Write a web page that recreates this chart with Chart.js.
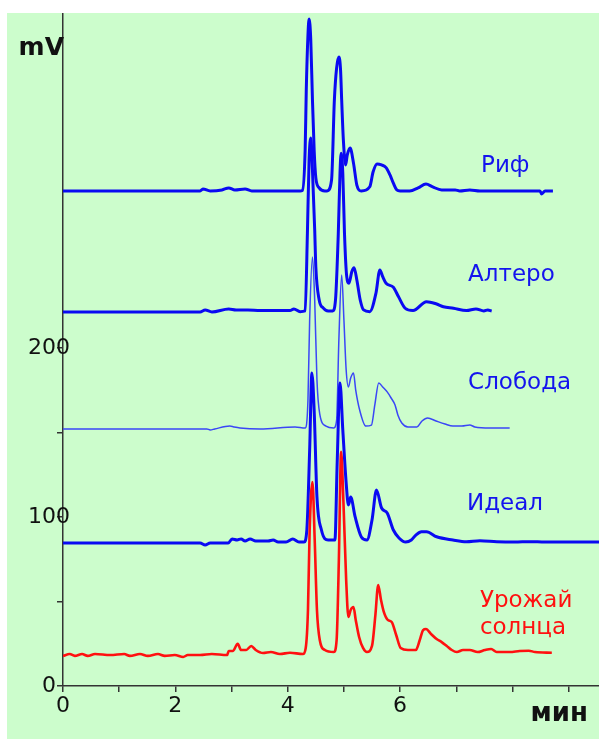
<!DOCTYPE html>
<html>
<head>
<meta charset="utf-8">
<script src="https://cdn.jsdelivr.net/npm/chart.js@4.4.1/dist/chart.umd.min.js"></script>
<style>
  body { margin: 0; background: #fff; }
  canvas { display: block; }
</style>
</head>
<body>
<canvas id="myChart" width="599" height="743"></canvas>
<script>
// chromatograms: [time, min ; signal, mV]
var names = ['Риф', 'Алтеро', 'Слобода', 'Идеал', 'Урожай солнца'];

var rif = [[0,292.9],[1.55,292.9],[2.44,292.9],[2.49,294.1],[2.62,292.9],[2.83,293.5],[2.95,294.7],[3.06,293.5],[3.24,294.1],[3.36,292.9],
  [4.22,292.9],[4.26,293.2],[4.31,317.2],[4.33,352.7],[4.36,385.2],[4.38,394.7],[4.41,382.2],[4.44,346.7],[4.47,317.2],[4.50,300.6],[4.56,294.7],[4.66,292.9],
  [4.70,292.9],[4.78,299.4],[4.83,346.7],[4.87,365.7],[4.91,372.2],[4.94,364.5],[4.96,346.7],[4.99,323.1],[5.03,308.3],[5.06,314.2],[5.11,318.3],[5.17,309.5],[5.23,296.4],[5.31,292.9],
  [5.46,295.4],[5.52,304.3],[5.59,308.9],[5.67,308.3],[5.75,306.7],[5.82,302.4],[5.88,297.5],[5.94,293.5],[6.00,292.9],[6.17,292.9],[6.32,294.7],[6.46,297.0],[6.58,295.3],[6.74,293.5],
  [6.98,293.5],[7.06,292.9],[7.24,293.5],[7.42,292.9],[8.49,292.9],[8.52,291.1],[8.58,292.9],[8.72,292.9]];

var altero = [[0,221.3],[1.01,221.3],[2.44,221.3],[2.53,222.5],[2.65,221.3],[2.95,223.1],[3.08,222.5],[3.29,222.5],[3.51,222.1],[4.04,222.1],[4.11,223.1],[4.22,221.5],
  [4.31,221.9],[4.35,268.0],[4.38,311.2],[4.41,324.3],[4.44,305.3],[4.48,269.8],[4.50,247.9],[4.56,228.4],[4.63,223.7],[4.72,221.9],[4.80,221.9],
  [4.85,228.4],[4.90,267.9],[4.93,303.4],[4.95,315.2],[4.98,303.4],[5.01,267.9],[5.05,242.2],[5.09,238.3],[5.14,245.1],[5.18,247.5],[5.23,240.2],[5.29,228.4],[5.35,222.5],
  [5.46,221.5],[5.57,232.4],[5.64,246.2],[5.69,242.2],[5.75,238.3],[5.88,235.9],[5.97,230.4],[6.09,223.5],[6.23,222.1],[6.47,227.4],[6.65,226.0],[6.77,224.4],
  [6.95,223.5],[7.18,222.1],[7.35,223.1],[7.49,221.9],[7.56,222.5],[7.63,221.9]];

var sloboda = [[0,152.1],[1.55,152.1],[2.56,152.1],[2.62,151.5],[2.70,152.1],[2.97,153.8],[3.04,153.3],[3.15,152.7],[3.51,152.1],[4.13,153.3],[4.31,152.7],
  [4.36,169.2],[4.39,216.6],[4.44,253.8],[4.48,228.4],[4.52,181.1],[4.57,160.9],[4.68,153.8],[4.82,152.7],
  [4.87,157.4],[4.91,204.7],[4.96,243.2],[5.00,216.6],[5.04,187.0],[5.08,176.9],[5.12,182.2],[5.17,185.2],[5.21,175.1],[5.28,163.3],[5.39,153.8],
  [5.49,154.4],[5.55,166.3],[5.62,179.3],[5.69,176.9],[5.77,174.0],[5.84,170.4],[5.91,166.3],[5.96,160.4],[6.03,155.6],[6.14,153.3],[6.30,153.3],
  [6.39,156.8],[6.49,158.6],[6.64,156.8],[6.80,155.0],[6.94,153.8],[7.10,153.8],[7.24,154.4],[7.33,153.3],[7.60,152.7],[7.78,152.7],[7.95,152.7]];

var ideal = [[0,84.6],[1.55,84.6],[2.44,84.6],[2.53,83.4],[2.62,84.6],[2.94,84.6],[3.01,87.0],[3.10,86.4],[3.17,87.0],[3.24,85.8],[3.33,87.0],[3.43,85.8],[3.65,85.8],
  [3.74,86.4],[3.83,85.2],[3.97,85.2],[4.09,87.0],[4.20,85.2],[4.29,85.2],
  [4.34,92.3],[4.39,139.6],[4.43,185.2],[4.47,163.3],[4.52,111.8],[4.60,92.3],[4.72,86.4],[4.84,86.4],
  [4.88,132.0],[4.93,179.3],[4.98,151.5],[5.04,120.1],[5.08,107.1],[5.12,111.8],[5.20,100.0],[5.31,88.2],[5.41,86.4],
  [5.50,98.2],[5.58,116.0],[5.67,105.3],[5.77,102.4],[5.88,92.3],[5.98,87.6],[6.10,85.2],[6.20,86.4],[6.28,89.3],[6.38,91.3],[6.47,91.3],[6.65,88.3],
  [6.94,86.4],[7.18,85.4],[7.42,86.0],[7.72,85.4],[8.04,85.2],[8.31,85.4],[8.58,85.2],[9.02,85.2],[9.54,85.2]];

var urozhai = [[0,17.8],[0.12,18.9],[0.21,17.8],[0.34,18.9],[0.44,17.8],[0.57,18.9],[0.84,18.3],[1.09,18.9],[1.19,17.8],[1.37,18.9],[1.51,17.8],[1.69,18.9],[1.81,17.8],
  [1.99,18.3],[2.14,17.2],[2.22,18.3],[2.44,18.3],[2.65,18.9],[2.92,18.3],[2.95,20.7],[3.02,20.7],[3.11,24.9],[3.17,21.3],[3.26,21.3],[3.35,23.7],[3.43,21.3],
  [3.56,19.5],[3.70,20.1],[3.86,18.9],[4.04,19.7],[4.27,18.9],
  [4.32,22.5],[4.36,45.0],[4.39,92.3],[4.44,120.7],[4.48,86.4],[4.52,45.0],[4.57,27.2],[4.66,21.3],[4.82,20.1],
  [4.87,27.2],[4.91,74.6],[4.95,138.5],[4.99,110.1],[5.04,62.7],[5.08,40.8],[5.12,45.0],[5.17,46.7],[5.21,39.1],[5.27,29.0],[5.34,22.5],[5.41,20.1],
  [5.50,23.7],[5.56,42.0],[5.61,59.8],[5.66,50.9],[5.71,43.8],[5.78,39.1],[5.85,37.9],[5.93,30.2],[6.01,22.5],[6.14,21.3],[6.28,21.3],
  [6.35,27.2],[6.41,33.1],[6.46,33.7],[6.55,30.8],[6.65,27.8],[6.74,26.0],[6.83,23.7],[6.92,21.3],[7.01,20.1],[7.12,21.3],[7.24,21.3],[7.38,20.1],
  [7.51,21.3],[7.62,21.9],[7.72,20.1],[7.95,20.1],[8.13,20.7],[8.29,20.9],[8.40,20.1],[8.70,19.7]];

var xTicks = [0, 1, 2, 3, 4, 5, 6, 7, 8, 9];
var xLabels = [0, 2, 4, 6];
var yTicks = [0, 50, 100, 150, 200];
var yLabels = [0, 100, 200];

var FONT = '"DejaVu Sans", Verdana, sans-serif';
Chart.defaults.font.family = FONT;

function pts(a) { return a.map(function (p) { return { x: p[0], y: p[1] }; }); }

// green panel behind everything
const panel = {
  id: 'panel',
  beforeDraw(chart) {
    const c = chart.ctx;
    c.save();
    c.fillStyle = '#ccfdcc';
    c.fillRect(7, 13, 592, 726);
    c.restore();
  }
};

// trace names and axis units
const names_plugin = {
  id: 'names',
  afterDraw(chart, args, opts) {
    const c = chart.ctx, xs = chart.scales.x, ys = chart.scales.y, a = chart.chartArea;
    c.save();
    c.textBaseline = 'middle';
    c.textAlign = 'left';
    c.font = '23px ' + FONT;
    chart.data.datasets.forEach(function (ds, i) {
      const p = opts.at[i];
      c.fillStyle = opts.colors[i];
      ds.label.split(' ').forEach(function (line, k) {
        c.fillText(line, xs.getPixelForValue(p[0]), ys.getPixelForValue(p[1]) + k * 27);
      });
    });
    c.fillStyle = '#111';
    c.textAlign = 'right';
    c.font = 'bold 25px ' + FONT;
    c.fillText('mV', a.left + 1, a.top + 34);
    c.font = 'bold 26px ' + FONT;
    c.fillText('мин', a.right - 11, a.bottom + 28);
    c.restore();
  }
};

var blue = '#0a0af2';
var ctx = document.getElementById('myChart').getContext('2d');
var myChart = new Chart(ctx, {
  type: 'line',
  data: {
    datasets: [
      { label: names[4], data: pts(urozhai), borderColor: '#ff1010', borderWidth: 2.6 },
      { label: names[3], data: pts(ideal), borderColor: blue, borderWidth: 3 },
      { label: names[2], data: pts(sloboda), borderColor: '#3a46f6', borderWidth: 1.5 },
      { label: names[1], data: pts(altero), borderColor: blue, borderWidth: 3 },
      { label: names[0], data: pts(rif), borderColor: blue, borderWidth: 3 }
    ]
  },
  options: {
    responsive: false,
    animation: false,
    devicePixelRatio: 1,
    layout: { padding: { left: 8, top: 14, right: 0, bottom: 0 } },
    elements: {
      point: { radius: 0 },
      line: { cubicInterpolationMode: 'monotone', fill: false }
    },
    plugins: {
      legend: { display: false },
      tooltip: { enabled: false },
      names: {
        at: [[7.42, 50.0], [7.19, 107.8], [7.21, 179.0], [7.21, 243.2], [7.44, 307.5]],
        colors: ['#ff1010', '#1414ee', '#1414ee', '#1414ee', '#1414ee']
      }
    },
    scales: {
      x: {
        type: 'linear',
        min: 0,
        max: 9.54,
        afterBuildTicks: function (s) { s.ticks = xTicks.map(function (v) { return { value: v }; }); },
        afterFit: function (s) { s.height = 57; s.paddingLeft = 0; s.paddingRight = 0; },
        ticks: {
          color: '#111',
          font: { size: 22 },
          padding: 1,
          maxRotation: 0,
          autoSkip: false,
          callback: function (v) { return xLabels.indexOf(v) >= 0 ? String(v) : ''; }
        },
        grid: { drawOnChartArea: false, drawTicks: true, tickLength: 6, color: '#333', lineWidth: 1.5 },
        border: { display: true, color: '#333', width: 1.5 }
      },
      y: {
        type: 'linear',
        min: 0,
        max: 397.6,
        afterBuildTicks: function (s) { s.ticks = yTicks.map(function (v) { return { value: v }; }); },
        afterFit: function (s) { s.width = 55; s.paddingTop = 0; s.paddingBottom = 0; },
        ticks: {
          color: '#111',
          font: { size: 22 },
          mirror: true,
          crossAlign: 'center',
          padding: -35,
          autoSkip: false,
          callback: function (v) { return yLabels.indexOf(v) >= 0 ? String(v) : ''; }
        },
        grid: { drawOnChartArea: false, drawTicks: true, tickLength: 6, color: '#333', lineWidth: 1.5 },
        border: { display: true, color: '#333', width: 1.5 }
      }
    }
  },
  plugins: [panel, names_plugin]
});
</script>
</body>
</html>
